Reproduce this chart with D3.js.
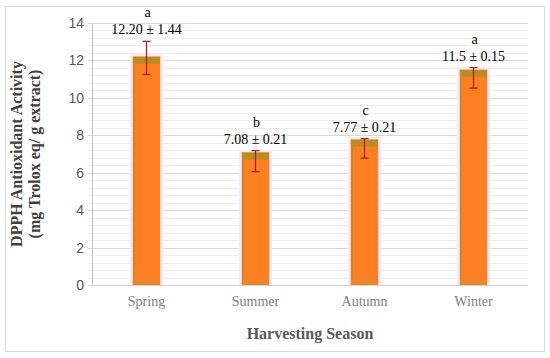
<!DOCTYPE html>
<html>
<head>
<meta charset="utf-8">
<script src="https://cdn.jsdelivr.net/npm/d3@7"></script>
<style>
  body { margin: 0; background: #fff; }
  svg { display: block; }
</style>
</head>
<body>
<div id="chart"></div>
<script>
// data
const seasons = ["Spring", "Summer", "Autumn", "Winter"];
const activity = [12.2, 7.08, 7.77, 11.5];
const errHigh = [13.02, 7.18, 7.82, 11.62];
const errLow = [11.25, 6.06, 6.78, 10.52];
const valueLabels = ["12.20 ± 1.44", "7.08 ± 0.21", "7.77 ± 0.21", "11.5 ± 0.15"];
const letters = ["a", "b", "c", "a"];
const yTicks = [0, 2, 4, 6, 8, 10, 12, 14];

const width = 550, height = 358;
const margin = { top: 23, right: 22, bottom: 73, left: 92 };
const serif = "'Liberation Serif', 'Times New Roman', serif";
const sans = "'Liberation Sans', Arial, sans-serif";

const svg = d3.select("#chart").append("svg")
  .attr("width", width)
  .attr("height", height);

// outer frame
svg.append("rect")
  .attr("x", 5.5).attr("y", 6.5)
  .attr("width", 539).attr("height", 345)
  .attr("fill", "#fff")
  .attr("stroke", "#d9d9d9");

const x = d3.scaleBand()
  .domain(seasons)
  .range([margin.left, width - margin.right])
  .paddingInner(0.75)
  .paddingOuter(0.375);

const y = d3.scaleLinear()
  .domain([0, 14])
  .range([height - margin.bottom, margin.top]);

// minor gridlines
const minor = d3.range(0, 14.001, 0.4).filter(v => Math.abs(v / 2 - Math.round(v / 2)) > 0.01);
svg.append("g")
  .selectAll("line")
  .data(minor)
  .join("line")
  .attr("x1", margin.left - 3)
  .attr("x2", width - margin.right)
  .attr("y1", d => Math.round(y(d)) + 0.5)
  .attr("y2", d => Math.round(y(d)) + 0.5)
  .attr("stroke", "#ececec");

// major gridlines
svg.append("g")
  .selectAll("line")
  .data(yTicks)
  .join("line")
  .attr("x1", margin.left - 4)
  .attr("x2", width - margin.right)
  .attr("y1", d => Math.round(y(d)) + 0.5)
  .attr("y2", d => Math.round(y(d)) + 0.5)
  .attr("stroke", "#d9d9d9");

// y axis line + labels
svg.append("line")
  .attr("x1", margin.left + 0.5).attr("x2", margin.left + 0.5)
  .attr("y1", y(14)).attr("y2", y(0))
  .attr("stroke", "#bfbfbf");

const yAxis = svg.append("g")
  .attr("transform", `translate(${margin.left},0)`)
  .call(d3.axisLeft(y).tickValues(yTicks).tickSize(0).tickPadding(8));
yAxis.select(".domain").remove();
yAxis.selectAll("text")
  .attr("font-family", sans)
  .attr("font-size", 14)
  .attr("fill", "#595959");

// bars
const bars = svg.append("g")
  .selectAll("g")
  .data(seasons)
  .join("g");

bars.append("rect") // faint halo
  .attr("x", d => x(d) - 3)
  .attr("y", (d, i) => y(activity[i]) - 3)
  .attr("width", x.bandwidth() + 6)
  .attr("height", (d, i) => y(0) - y(activity[i]) + 3)
  .attr("fill", "#fde9f6");

bars.append("rect")
  .attr("x", d => x(d))
  .attr("y", (d, i) => y(activity[i]))
  .attr("width", x.bandwidth())
  .attr("height", (d, i) => y(0) - y(activity[i]))
  .attr("fill", "#fe7e22");

bars.append("rect") // top bevel
  .attr("x", d => x(d))
  .attr("y", (d, i) => y(activity[i]))
  .attr("width", x.bandwidth())
  .attr("height", 7)
  .attr("fill", "#bb8a22");

bars.append("rect") // left bevel
  .attr("x", d => x(d))
  .attr("y", (d, i) => y(activity[i]))
  .attr("width", 2)
  .attr("height", (d, i) => y(0) - y(activity[i]))
  .attr("fill", "#c98a26");

bars.append("rect") // bottom bevel
  .attr("x", d => x(d))
  .attr("y", y(0) - 6)
  .attr("width", x.bandwidth())
  .attr("height", 6)
  .attr("fill", "#e9862a");

// error bars
const cx = d => x(d) + x.bandwidth() / 2;
const err = svg.append("g").attr("stroke", "#9c2a2a").attr("stroke-width", 1.3);
err.selectAll(".v")
  .data(seasons)
  .join("line")
  .attr("x1", cx).attr("x2", cx)
  .attr("y1", (d, i) => y(errHigh[i]))
  .attr("y2", (d, i) => y(errLow[i]));
err.selectAll(".t")
  .data(seasons)
  .join("line")
  .attr("x1", d => cx(d) - 4).attr("x2", d => cx(d) + 4)
  .attr("y1", (d, i) => y(errHigh[i]))
  .attr("y2", (d, i) => y(errHigh[i]));
err.selectAll(".b")
  .data(seasons)
  .join("line")
  .attr("x1", d => cx(d) - 4).attr("x2", d => cx(d) + 4)
  .attr("y1", (d, i) => y(errLow[i]))
  .attr("y2", (d, i) => y(errLow[i]));

// x axis baseline
svg.append("line")
  .attr("x1", margin.left).attr("x2", width - margin.right)
  .attr("y1", Math.round(y(0)) + 0.5).attr("y2", Math.round(y(0)) + 0.5)
  .attr("stroke", "#d0d0d0");

const xAxis = svg.append("g")
  .attr("transform", `translate(0,${y(0)})`)
  .call(d3.axisBottom(x).tickSize(0).tickPadding(11));
xAxis.select(".domain").remove();
xAxis.selectAll("text")
  .attr("font-family", serif)
  .attr("font-size", 14)
  .attr("fill", "#7f7f7f");

// labels above bars
const labelTop = i => y(Math.max(activity[i], errHigh[i]));
svg.append("g")
  .selectAll("text")
  .data(seasons)
  .join("text")
  .attr("x", cx)
  .attr("y", (d, i) => labelTop(i) - 7)
  .attr("text-anchor", "middle")
  .attr("font-family", serif)
  .attr("font-size", 14)
  .attr("fill", "#000")
  .text((d, i) => valueLabels[i]);

svg.append("g")
  .selectAll("text")
  .data(seasons)
  .join("text")
  .attr("x", d => cx(d) + 1)
  .attr("y", (d, i) => labelTop(i) - 24)
  .attr("text-anchor", "middle")
  .attr("font-family", serif)
  .attr("font-size", 14)
  .attr("fill", "#000")
  .text((d, i) => letters[i]);

// axis titles
svg.append("text")
  .attr("x", (margin.left + width - margin.right) / 2)
  .attr("y", 339)
  .attr("text-anchor", "middle")
  .attr("font-family", serif)
  .attr("font-weight", "bold")
  .attr("font-size", 16)
  .attr("fill", "#595959")
  .text("Harvesting Season");

const yTitle = svg.append("text")
  .attr("transform", `translate(22,${(y(0) + y(14)) / 2}) rotate(-90)`)
  .attr("text-anchor", "middle")
  .attr("font-family", serif)
  .attr("font-weight", "bold")
  .attr("font-size", 16)
  .attr("fill", "#404040");
yTitle.append("tspan").attr("x", 0).attr("dy", 0).text("DPPH Antioxidant Activity");
yTitle.append("tspan").attr("x", 0).attr("dy", 18).text("(mg Trolox eq/ g extract)");
</script>
</body>
</html>
